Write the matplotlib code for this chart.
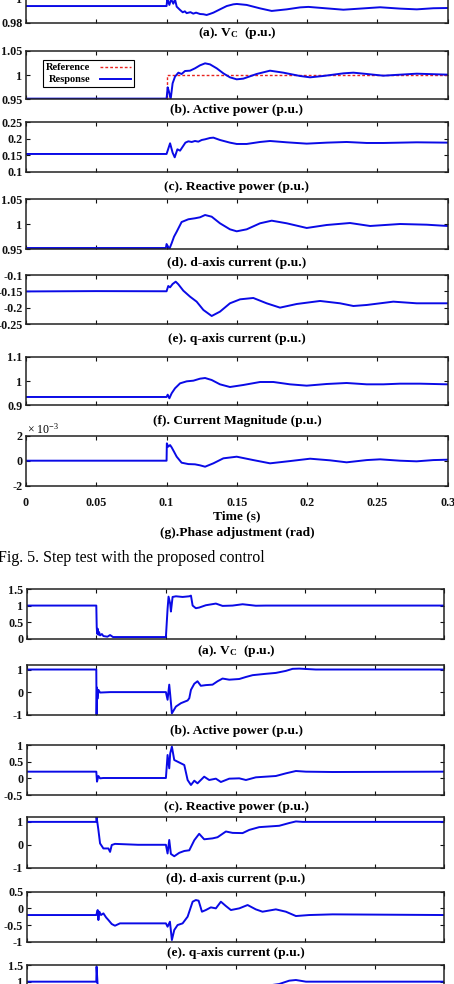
import matplotlib.pyplot as plt
from matplotlib.ticker import FormatStrFormatter

plt.rcParams['font.family'] = ['Liberation Serif', 'DejaVu Serif']
plt.rcParams['font.weight'] = 'bold'
plt.rcParams['axes.unicode_minus'] = False
plt.rcParams['mathtext.default'] = 'regular'

BLUE = '#0a0ae6'

# ---------------- Fig. 5 : step test ----------------
t_vc = [0, 0.1, 0.1005, 0.102, 0.1032, 0.1048, 0.106, 0.1072, 0.1096, 0.1115, 0.113, 0.1143,
        0.117, 0.119, 0.121, 0.1238, 0.1262, 0.1285, 0.1309, 0.1333, 0.138, 0.1428, 0.1475,
        0.15, 0.157, 0.1665, 0.1748, 0.1855, 0.195, 0.2009, 0.2139, 0.2258, 0.2376, 0.2519,
        0.2661, 0.278, 0.2898, 0.3]
vc = [0.9936, 0.9936, 0.9995, 0.9945, 0.9992, 0.9955, 0.999, 0.9931, 0.9904, 0.9885, 0.9893,
      0.9878, 0.9886, 0.9874, 0.9882, 0.9871, 0.9869, 0.9863, 0.9872, 0.9882, 0.9909, 0.9936,
      0.9950, 0.9953, 0.9945, 0.9917, 0.9896, 0.9909, 0.9925, 0.9929, 0.9917, 0.9906, 0.9915,
      0.9926, 0.9915, 0.9909, 0.9918, 0.992]

t_pref = [0, 0.1, 0.1, 0.3]
p_ref = [0.95, 0.95, 1.0, 1.0]
t_p = [0, 0.1, 0.1008, 0.1017, 0.1029, 0.1043, 0.106, 0.1084, 0.1107, 0.1131, 0.1167, 0.1202,
       0.1238, 0.1274, 0.1309, 0.1357, 0.1404, 0.1451, 0.1499, 0.1546, 0.1641, 0.1736, 0.1831,
       0.1949, 0.2021, 0.2115, 0.2258, 0.2329, 0.2424, 0.2542, 0.2779, 0.3]
p = [0.9514, 0.9514, 0.9747, 0.9658, 0.9500, 0.9829, 0.9966, 1.0048, 1.0021, 1.0082, 1.0089,
     1.0137, 1.0199, 1.024, 1.0219, 1.0137, 1.0034, 0.9952, 0.9911, 0.9925, 1.0021, 1.0089,
     1.0048, 0.998, 0.9952, 0.998, 1.0034, 1.0048, 1.0021, 0.9986, 1.0027, 1.0007]

t_q = [0, 0.1, 0.1025, 0.1043, 0.1058, 0.1077, 0.1096, 0.1115, 0.1134, 0.1155, 0.1179, 0.1202,
       0.1226, 0.125, 0.1274, 0.1309, 0.1333, 0.138, 0.1451, 0.1499, 0.157, 0.1665, 0.1736,
       0.1855, 0.1997, 0.2139, 0.2281, 0.2424, 0.2542, 0.2779, 0.3]
q = [0.1544, 0.1544, 0.1866, 0.1584, 0.1443, 0.1685, 0.1644, 0.1765, 0.1886, 0.1926, 0.1906,
     0.1936, 0.1916, 0.1966, 0.1987, 0.2027, 0.2037, 0.1966, 0.1886, 0.1846, 0.1846, 0.1906,
     0.1936, 0.1896, 0.1856, 0.1886, 0.1906, 0.1876, 0.1876, 0.1896, 0.1886]

t_id = [0, 0.0995, 0.1, 0.102, 0.1036, 0.1053, 0.1072, 0.1107, 0.1155, 0.1202, 0.1238, 0.1274,
        0.1321, 0.138, 0.1451, 0.1499, 0.157, 0.1665, 0.1748, 0.1855, 0.1997, 0.2139, 0.2305,
        0.2448, 0.2661, 0.2851, 0.3]
i_d = [0.952, 0.952, 0.960, 0.950, 0.9615, 0.9748, 0.9848, 1.0043, 1.0098, 1.0118, 1.0138,
       1.0184, 1.015, 1.0017, 0.9896, 0.9856, 0.9896, 1.0017, 1.007, 1.0017, 0.9923, 0.9983,
       1.0023, 0.9963, 1.0003, 0.9989, 0.9963]

t_iq = [0, 0.05, 0.1, 0.1012, 0.1025, 0.1043, 0.1065, 0.1084, 0.1119, 0.1167, 0.1214, 0.1262,
        0.1321, 0.138, 0.1451, 0.1523, 0.1617, 0.1712, 0.1807, 0.1926, 0.2092, 0.2234, 0.2329,
        0.2424, 0.2613, 0.2779, 0.3]
i_q = [-0.150, -0.149, -0.1495, -0.1334, -0.1375, -0.1274, -0.1203, -0.1284, -0.1476, -0.1659,
       -0.1811, -0.2064, -0.2247, -0.2115, -0.1861, -0.174, -0.1699, -0.1861, -0.1993, -0.1882,
       -0.179, -0.1861, -0.1943, -0.1912, -0.1811, -0.1861, -0.1861]

t_im = [0, 0.1, 0.1008, 0.102, 0.1036, 0.106, 0.1096, 0.1143, 0.1191, 0.1238, 0.1274, 0.1321,
        0.138, 0.1451, 0.1546, 0.1665, 0.176, 0.1878, 0.1997, 0.2139, 0.2281, 0.2424, 0.2542,
        0.2661, 0.2803, 0.3]
i_mag = [0.9342, 0.9342, 0.9438, 0.9288, 0.9493, 0.9699, 0.9904, 0.9986, 1.0014, 1.0096, 1.0123,
         1.0041, 0.9863, 0.9753, 0.9836, 0.9959, 0.9959, 0.9863, 0.9808, 0.9877, 0.9918, 0.9863,
         0.9863, 0.989, 0.989, 0.9863]

# phase adjustment, in units of 1e-3 rad
t_ph = [0, 0.1, 0.1002, 0.1012, 0.1025, 0.1036, 0.1053, 0.1072, 0.1107, 0.1155, 0.1202, 0.1238,
        0.1274, 0.1333, 0.1404, 0.1499, 0.1617, 0.1736, 0.1878, 0.2021, 0.2163, 0.2281, 0.2424,
        0.2519, 0.2661, 0.2779, 0.2898, 0.3]
phase = [0, 0, 1.39, 1.12, 1.25, 1.07, 0.72, 0.32, -0.16, -0.27, -0.29, -0.37, -0.48, -0.21,
         0.19, 0.32, 0.05, -0.21, -0.03, 0.16, 0.03, -0.13, 0.05, 0.11, 0, -0.05, 0.05, 0.08]

# ---------------- fault test (second figure) ----------------
t2_vc = [0, 0.05, 0.0503, 0.0506, 0.051, 0.0515, 0.052, 0.0527, 0.054, 0.0551, 0.058, 0.0599,
         0.062, 0.07, 0.1, 0.1012, 0.1019, 0.1031, 0.1036, 0.1048, 0.1072, 0.112, 0.1168, 0.118,
         0.1192, 0.1215, 0.1239, 0.1287, 0.1359, 0.1407, 0.1479, 0.1551, 0.1646, 0.1718, 0.2, 0.3]
vc2 = [1, 1, 0.35, 0.15, 0.3, 0.12, 0.2, 0.1, 0.14, 0.08, 0.06, 0.11, 0.05, 0.05, 0.05, 0.9,
       1.27, 1.05, 0.82, 1.26, 1.28, 1.26, 1.28, 1.3, 1.0, 0.92, 0.94, 1.01, 1.06, 0.99, 1.0,
       1.04, 0.995, 1.0, 1.0, 1.0]

t2_p = [0, 0.05, 0.0502, 0.0505, 0.0508, 0.0515, 0.0527, 0.06, 0.1, 0.1012, 0.1024, 0.1031,
        0.1043, 0.1072, 0.1108, 0.1156, 0.1168, 0.118, 0.1204, 0.1227, 0.1251, 0.1287, 0.1335,
        0.1371, 0.1407, 0.1455, 0.1527, 0.1575, 0.1623, 0.1718, 0.179, 0.1862, 0.191, 0.1958,
        0.2077, 0.3]
p2 = [1, 1, -1.05, 0.2, -0.3, 0.1, -0.02, 0, 0, -0.34, 0.33, -0.12, -0.94, -0.64, -0.49, -0.37,
      -0.27, 0.1, 0.37, 0.48, 0.28, 0.31, 0.33, 0.48, 0.6, 0.55, 0.58, 0.67, 0.75, 0.81, 0.85,
      0.94, 1.03, 1.04, 1.0, 1.0]

t2_q = [0, 0.05, 0.0505, 0.0515, 0.0527, 0.055, 0.1, 0.1012, 0.1024, 0.1031, 0.1043, 0.106,
        0.1084, 0.1108, 0.1132, 0.1156, 0.118, 0.1204, 0.1227, 0.1251, 0.1275, 0.1311, 0.1359,
        0.1395, 0.1455, 0.1527, 0.1575, 0.1646, 0.1718, 0.179, 0.1862, 0.1934, 0.2006, 0.2197, 0.3]
q2 = [0.2, 0.2, -0.1, 0.07, 0.0, 0.01, 0.01, 0.7, 0.3, 0.75, 0.95, 0.55, 0.5, 0.45, 0.4, -0.05,
      -0.2, -0.07, -0.15, -0.05, 0.05, -0.05, -0.01, -0.11, -0.01, 0.0, -0.05, 0.03, 0.05, 0.07,
      0.15, 0.22, 0.2, 0.19, 0.2]

t2_id = [0, 0.05, 0.0502, 0.0515, 0.0527, 0.0551, 0.0587, 0.0599, 0.0611, 0.0634, 0.08, 0.1,
         0.1012, 0.1024, 0.1036, 0.106, 0.1096, 0.1132, 0.1168, 0.1204, 0.1239, 0.1275, 0.1335,
         0.1371, 0.1431, 0.1479, 0.1551, 0.1599, 0.167, 0.1742, 0.1814, 0.1886, 0.1934, 0.1982,
         0.2077, 0.3]
id2 = [1, 1, 1.22, 0.65, 0.06, -0.16, -0.16, -0.31, -0.01, 0.04, 0.0, 0.0, -0.38, 0.21, -0.4,
       -0.5, -0.35, -0.27, -0.24, 0.2, 0.48, 0.24, 0.28, 0.33, 0.58, 0.52, 0.51, 0.65, 0.77, 0.8,
       0.83, 0.95, 1.02, 1.0, 1.0, 1.0]

t2_iq = [0, 0.05, 0.051, 0.0515, 0.0522, 0.0534, 0.0551, 0.057, 0.0587, 0.0611, 0.0634, 0.067,
         0.0766, 0.1, 0.1012, 0.1029, 0.1043, 0.106, 0.1084, 0.112, 0.1156, 0.1192, 0.1215,
         0.1235, 0.1259, 0.1287, 0.1323, 0.1359, 0.1395, 0.1431, 0.1467, 0.1527, 0.1587, 0.1646,
         0.1694, 0.179, 0.1862, 0.1934, 0.2029, 0.2197, 0.3]
iq2 = [-0.2, -0.2, -0.05, -0.35, -0.1, -0.2, -0.15, -0.27, -0.35, -0.47, -0.52, -0.45, -0.45,
       -0.45, -0.55, -0.4, -0.95, -0.65, -0.5, -0.45, -0.25, 0.2, 0.25, 0.23, -0.1, -0.05, 0.03,
       0.0, 0.2, 0.07, -0.05, 0.0, 0.1, -0.03, -0.1, -0.03, -0.1, -0.23, -0.2, -0.18, -0.2]

t2_im = [0, 0.05, 0.0502, 0.0515, 0.06, 0.1, 0.105, 0.13, 0.16, 0.1814, 0.1886, 0.1934, 0.2006, 0.3]
im2 = [1, 1, 1.45, 0.5, 0.45, 0.45, 0.7, 0.6, 0.8, 0.93, 1.03, 1.05, 1.0, 1.0]

x_ticks = [0, 0.05, 0.1, 0.15, 0.2, 0.25, 0.3]

W, H = 454, 984
fig = plt.figure(figsize=(W / 100, H / 100), dpi=100)


def add_box(l, t, r, b):
    # axes placed by pixel box (left, top, right, bottom)
    return fig.add_axes([l / W, 1 - b / H, (r - l) / W, (b - t) / H])


def put(x, y, s, **kw):
    kw.setdefault('ha', 'center')
    fig.text(x / W, 1 - y / H, s, va='center', **kw)


def style(ax, ylim, yticks, xlabels=False):
    ax.set_xlim(0, 0.3)
    ax.set_ylim(*ylim)
    ax.set_xticks(x_ticks)
    ax.set_yticks(yticks)
    ax.yaxis.set_major_formatter(FormatStrFormatter('%g'))
    ax.xaxis.set_major_formatter(FormatStrFormatter('%g'))
    ax.tick_params(direction='in', length=3, width=0.8, top=True, right=True,
                   labelsize=8.7, pad=2.5, colors='#111111')
    ax.tick_params(axis='x', pad=8, labelbottom=xlabels)
    for s in ax.spines.values():
        s.set_linewidth(1.1)
        s.set_color('#222222')


# --- first figure ---
L1, R1 = 26, 447.7
ax = add_box(L1, -26.3, R1, 22.7)
ax.plot(t_vc, vc, color=BLUE, lw=1.4)
style(ax, (0.98, 1.02), [0.98, 1, 1.02])

ax = add_box(L1, 50.7, R1, 99.3)
ax.plot(t_pref, p_ref, color='#e8231f', lw=1.0, ls=(0, (2, 1.5)), label='Reference')
ax.plot(t_p, p, color=BLUE, lw=1.4, label='Response')
style(ax, (0.95, 1.05), [0.95, 1, 1.05])
leg = ax.legend(loc='upper left', bbox_to_anchor=(0.04, 0.81), borderaxespad=0,
                markerfirst=False, fancybox=False, framealpha=1, edgecolor='black',
                prop={'size': 7.5, 'weight': 'bold'}, handlelength=3.0,
                labelspacing=0.25, borderpad=0.3, handletextpad=0.9)
leg.get_frame().set_linewidth(0.8)

ax = add_box(L1, 122.3, R1, 172)
ax.plot(t_q, q, color=BLUE, lw=1.4)
style(ax, (0.1, 0.25), [0.1, 0.15, 0.2, 0.25])

ax = add_box(L1, 199.3, R1, 249)
ax.plot(t_id, i_d, color=BLUE, lw=1.4)
style(ax, (0.95, 1.05), [0.95, 1, 1.05])

ax = add_box(L1, 275, R1, 324.3)
ax.plot(t_iq, i_q, color=BLUE, lw=1.4)
style(ax, (-0.25, -0.1), [-0.25, -0.2, -0.15, -0.1])

ax = add_box(L1, 356.7, R1, 405.3)
ax.plot(t_im, i_mag, color=BLUE, lw=1.4)
style(ax, (0.9, 1.1), [0.9, 1, 1.1])

ax = add_box(L1, 435.7, R1, 485.7)
ax.plot(t_ph, phase, color=BLUE, lw=1.4)
style(ax, (-2, 2), [-2, 0, 2], xlabels=True)

cx1 = 237
put(cx1, 33, '(a). V$_\\mathregular{C}$  (p.u.)', fontsize=9.7)
put(cx1, 110, '(b). Active power (p.u.)', fontsize=9.7)
put(cx1, 186.7, '(c). Reactive power (p.u.)', fontsize=9.7)
put(cx1, 263.3, '(d). d-axis current (p.u.)', fontsize=9.7)
put(cx1, 339.3, '(e). q-axis current (p.u.)', fontsize=9.7)
put(cx1, 421, '(f). Current Magnitude (p.u.)', fontsize=9.7)
put(cx1, 516.7, 'Time (s)', fontsize=9.7)
put(cx1, 533.3, '(g).Phase adjustment (rad)', fontsize=9.7)
put(27, 429, '$\\times$ 10$^{-3}$', fontsize=8.5, fontweight='normal', ha='left')
put(-1.5, 558.3, 'Fig. 5. Step test with the proposed control', fontsize=11.5,
    fontweight='normal', ha='left')

# --- second figure ---
L2, R2 = 26.7, 444.3
ax = add_box(L2, 589, R2, 638.7)
ax.plot(t2_vc, vc2, color=BLUE, lw=1.4)
style(ax, (0, 1.5), [0, 0.5, 1, 1.5])

ax = add_box(L2, 665, R2, 714.7)
ax.plot(t2_p, p2, color=BLUE, lw=1.4)
style(ax, (-1, 1.2), [-1, 0, 1])

ax = add_box(L2, 745, R2, 795)
ax.plot(t2_q, q2, color=BLUE, lw=1.4)
style(ax, (-0.5, 1), [-0.5, 0, 0.5, 1])

ax = add_box(L2, 817.3, R2, 867.7)
ax.plot(t2_id, id2, color=BLUE, lw=1.4)
style(ax, (-1, 1.2), [-1, 0, 1])

ax = add_box(L2, 891.7, R2, 941.7)
ax.plot(t2_iq, iq2, color=BLUE, lw=1.4)
style(ax, (-1, 0.5), [-1, -0.5, 0, 0.5])

ax = add_box(L2, 965, R2, 1015)
ax.plot(t2_im, im2, color=BLUE, lw=1.4)
style(ax, (0, 1.5), [0, 0.5, 1, 1.5])

cx2 = 236
put(cx2, 651, '(a). V$_\\mathregular{C}$  (p.u.)', fontsize=9.7)
put(cx2, 730.7, '(b). Active power (p.u.)', fontsize=9.7)
put(cx2, 807.3, '(c). Reactive power (p.u.)', fontsize=9.7)
put(cx2, 879.3, '(d). d-axis current (p.u.)', fontsize=9.7)
put(cx2, 952.7, '(e). q-axis current (p.u.)', fontsize=9.7)

fig.savefig('out.png', dpi=100)
